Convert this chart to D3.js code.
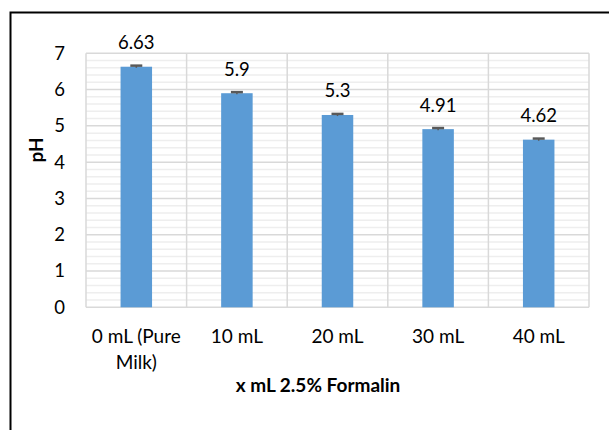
<!DOCTYPE html>
<html>
<head>
<meta charset="utf-8">
<script src="https://cdn.jsdelivr.net/npm/d3@7"></script>
<style>
  html, body { margin: 0; padding: 0; background: #fff; }
  svg { display: block; font-family: Lato, "Open Sans", sans-serif; }
</style>
</head>
<body>
<svg id="chart" width="609" height="430"></svg>
<script>
const categories = ["0 mL (Pure Milk)", "10 mL", "20 mL", "30 mL", "40 mL"];
const categoryLines = [["0 mL (Pure", "Milk)"], ["10 mL"], ["20 mL"], ["30 mL"], ["40 mL"]];
const phValues = [6.63, 5.9, 5.3, 4.91, 4.62];
const phErrors = [0.03, 0.03, 0.03, 0.03, 0.03];
const yTicks = [0, 1, 2, 3, 4, 5, 6, 7];
const labelTexts = ["6.63", "5.9", "5.3", "4.91", "4.62"];

(function () {
const svg = d3.select("#chart");
const pLeft = 86, pRight = 589, pTop = 53.3, pBottom = 307.3;

// outer frame
svg.append("rect").attr("x", 10.5).attr("y", 12.5).attr("width", 700).attr("height", 500)
  .attr("fill", "none").attr("stroke", "#000").attr("stroke-width", 2);

const x = d3.scaleBand().domain(categories).range([pLeft, pRight]).paddingInner(0).paddingOuter(0);
const y = d3.scaleLinear().domain([0, 7]).range([pBottom, pTop]);

// minor gridlines
const minor = d3.range(0, 7.001, 0.2).filter(v => Math.abs(v - Math.round(v)) > 0.01);
svg.append("g").selectAll("line").data(minor).join("line")
  .attr("x1", pLeft).attr("x2", pRight)
  .attr("y1", d => y(d)).attr("y2", d => y(d))
  .attr("stroke", "#eeeeee").attr("stroke-width", 1.5);

// major gridlines
svg.append("g").selectAll("line").data(yTicks).join("line")
  .attr("x1", pLeft).attr("x2", pRight)
  .attr("y1", d => y(d)).attr("y2", d => y(d))
  .attr("stroke", "#d9d9d9").attr("stroke-width", 1.5);

// vertical gridlines at category boundaries
const bounds = categories.map(c => x(c)).concat([pRight]);
svg.append("g").selectAll("line").data(bounds).join("line")
  .attr("x1", d => d).attr("x2", d => d)
  .attr("y1", pTop).attr("y2", pBottom)
  .attr("stroke", "#d9d9d9").attr("stroke-width", 1.5);

// bars
const barW = 31.5;
svg.append("g").selectAll("rect").data(phValues).join("rect")
  .attr("x", (d, i) => x(categories[i]) + x.bandwidth() / 2 - barW / 2)
  .attr("y", d => y(d))
  .attr("width", barW)
  .attr("height", d => y(0) - y(d))
  .attr("fill", "#5b9bd5");

// error bars
const eb = svg.append("g");
phValues.forEach((v, i) => {
  const cx = x(categories[i]) + x.bandwidth() / 2;
  eb.append("line").attr("x1", cx).attr("x2", cx)
    .attr("y1", y(v - phErrors[i])).attr("y2", y(v + phErrors[i]))
    .attr("stroke", "#595959").attr("stroke-width", 1.5);
  eb.append("line").attr("x1", cx - 6).attr("x2", cx + 6)
    .attr("y1", y(v + phErrors[i])).attr("y2", y(v + phErrors[i]))
    .attr("stroke", "#595959").attr("stroke-width", 2.5);
});

// data labels
svg.append("g").selectAll("text").data(phValues).join("text")
  .attr("x", (d, i) => x(categories[i]) + x.bandwidth() / 2)
  .attr("y", d => y(d) - 17.5)
  .attr("text-anchor", "middle")
  .attr("font-size", 18.5).attr("fill", "#000")
  .text((d, i) => labelTexts[i]);

// y tick labels
svg.append("g").selectAll("text").data(yTicks).join("text")
  .attr("x", 65).attr("y", d => y(d)).attr("dy", "0.35em")
  .attr("text-anchor", "end").attr("font-size", 18.5).attr("fill", "#000")
  .text(d => d);

// x tick labels
categories.forEach((c, i) => {
  const cx = x(c) + x.bandwidth() / 2;
  const t = svg.append("text").attr("text-anchor", "middle").attr("font-size", 19).attr("fill", "#000");
  categoryLines[i].forEach((ln, j) => {
    t.append("tspan").attr("x", cx).attr("y", 343 + j * 26).text(ln);
  });
});

// axis titles
svg.append("text").attr("x", 318).attr("y", 392).attr("text-anchor", "middle")
  .attr("font-size", 19).attr("font-weight", "bold").attr("fill", "#000")
  .text("x mL 2.5% Formalin");
svg.append("text").attr("transform", "translate(43,150) rotate(-90)")
  .attr("text-anchor", "middle").attr("font-size", 19).attr("font-weight", "bold").attr("fill", "#000")
  .text("pH");
})();
</script>
</body>
</html>
